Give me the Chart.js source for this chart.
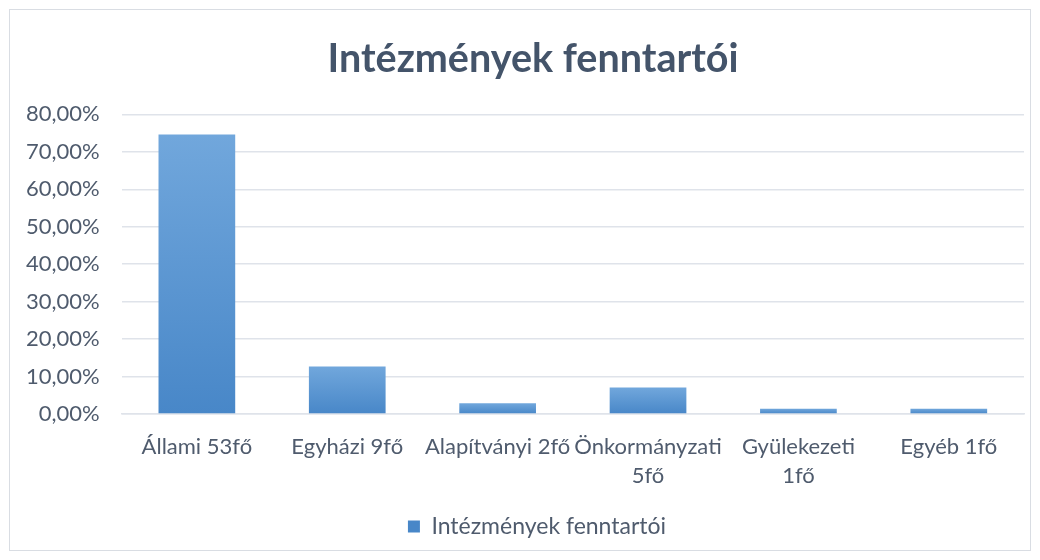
<!DOCTYPE html>
<html>
<head>
<meta charset="utf-8">
<script src="https://cdn.jsdelivr.net/npm/chart.js@4"></script>
<style>
  body { margin: 0; background: #fff; }
  #wrap { position: relative; width: 1040px; height: 560px; }
</style>
</head>
<body>
<div id="wrap"><canvas id="myChart" width="1040" height="560"></canvas></div>
<script>
var categories = [
  "Állami 53fő",
  "Egyházi 9fő",
  "Alapítványi 2fő",
  ["Önkormányzati", "5fő"],
  ["Gyülekezeti", "1fő"],
  "Egyéb 1fő",
];
var shares = [0.7465, 0.1268, 0.0282, 0.0704, 0.0141, 0.0141];
var seriesName = "Intézmények fenntartói";

var textColor = "#4f5b6d";
var gridColor = "#dfe3ea";

function barGradient(c) {
  var chart = c.chart;
  var y = chart.scales.y;
  if (!y || c.raw === undefined) {
    return "#5b9bd5";
  }
  var top = y.getPixelForValue(c.raw);
  var bottom = y.getPixelForValue(0);
  if (!isFinite(top) || !isFinite(bottom) || top === bottom) {
    return "#5b9bd5";
  }
  var g = chart.ctx.createLinearGradient(0, top, 0, bottom);
  g.addColorStop(0, "#71a7dc");
  g.addColorStop(1, "#4887c8");
  return g;
}

// frame around the whole chart
var framePlugin = {
  id: "frame",
  beforeDraw: function (chart) {
    var ctx = chart.ctx;
    ctx.save();
    ctx.fillStyle = "#fff";
    ctx.fillRect(0, 0, chart.width, chart.height);
    ctx.strokeStyle = "#d9dde3";
    ctx.lineWidth = 1;
    ctx.strokeRect(9.5, 9.5, 1021, 541);
    ctx.restore();
  },
};

// title and legend sit a little right of the canvas centre in the original
var nudgePlugin = {
  id: "nudge",
  afterLayout: function (chart) {
    if (chart.titleBlock) chart.titleBlock.left += 38;
    if (chart.legend) chart.legend.left += 46;
  },
};

var ctx = document.getElementById("myChart").getContext("2d");

var myChart = new Chart(ctx, {
  type: "bar",
  data: {
    labels: categories,
    datasets: [
      {
        label: seriesName,
        data: shares,
        backgroundColor: barGradient,
        barPercentage: 0.51,
        categoryPercentage: 1.0,
      },
    ],
  },
  options: {
    responsive: false,
    animation: false,
    layout: {
      padding: { top: 36, left: 4, right: 16, bottom: 12 },
    },
    scales: {
      y: {
        min: 0,
        max: 0.8,
        ticks: {
          stepSize: 0.1,
          color: textColor,
          font: { family: "Lato", size: 22 },
          padding: 22,
          callback: function (v) {
            return (v * 100).toFixed(2).replace(".", ",") + "%";
          },
        },
        grid: { color: gridColor, lineWidth: 1.5, drawTicks: false },
        border: { display: false },
      },
      x: {
        ticks: {
          color: textColor,
          font: { family: "Lato", size: 22, lineHeight: 1.32 },
          padding: 10,
          maxRotation: 0,
          autoSkip: false,
        },
        grid: { display: false },
        border: { color: gridColor, width: 1.5 },
      },
    },
    plugins: {
      title: {
        display: true,
        text: seriesName,
        color: "#44546a",
        font: { family: "Lato", size: 39.5, weight: "bold" },
        padding: { top: 0, bottom: 31 },
      },
      legend: {
        position: "bottom",
        labels: {
          color: textColor,
          font: { family: "Lato", size: 23 },
          boxWidth: 12,
          boxHeight: 12,
          padding: 15,
        },
      },
      tooltip: { enabled: false },
    },
  },
  plugins: [framePlugin, nudgePlugin],
});
</script>
</body>
</html>
